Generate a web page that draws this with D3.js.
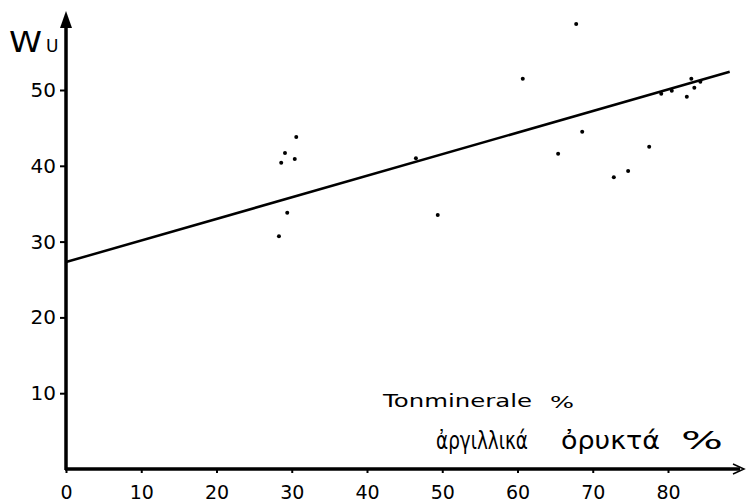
<!DOCTYPE html>
<html>
<head>
<meta charset="utf-8">
<script src="https://cdn.jsdelivr.net/npm/d3@7"></script>
<style>
  body { margin: 0; background: #fff; }
  svg { display: block; }
</style>
</head>
<body>
<div id="chart"></div>
<script>
// clay mineral % vs Wu
const clayPct = [28.3, 28.6, 29.1, 29.4, 30.4, 30.6, 46.5, 49.4, 60.7, 65.4, 67.8,
                 68.6, 72.8, 74.7, 77.5, 79.1, 80.5, 82.5, 83.1, 83.5, 84.3];
const wuValues = [30.7, 40.4, 41.7, 33.8, 40.9, 43.8, 41.0, 33.5, 51.5, 41.6, 58.7,
                  44.5, 38.5, 39.3, 42.5, 49.5, 49.9, 49.1, 51.5, 50.3, 51.1];
// fitted line end points
const fitX = [0, 88.2];
const fitY = [27.3, 52.4];
const xTicks = [0, 10, 20, 30, 40, 50, 60, 70, 80];
const yTicks = [10, 20, 30, 40, 50];

const width = 750, height = 504;
const font = "'DejaVu Sans', sans-serif";

const svg = d3.select("#chart").append("svg")
  .attr("width", width)
  .attr("height", height);

// scales
const x = d3.scaleLinear().domain([0, 80]).range([66, 668]);
const y = d3.scaleLinear().domain([0, 50]).range([469, 90]);

// x axis
const xAxis = svg.append("g")
  .attr("transform", `translate(0,${y(0)})`)
  .call(d3.axisBottom(x).tickValues(xTicks).tickSize(4).tickFormat(d3.format("d")));
xAxis.select(".domain").remove();
xAxis.selectAll("line").attr("stroke", "#000").attr("stroke-width", 2);
xAxis.selectAll("text")
  .attr("font-family", font)
  .attr("font-size", 19)
  .attr("fill", "#000")
  .attr("y", 30)
  .attr("dy", 0);

svg.append("line")
  .attr("x1", x(0) - 1).attr("x2", 740)
  .attr("y1", y(0)).attr("y2", y(0))
  .attr("stroke", "#000").attr("stroke-width", 3.5);
// open arrow at right end
svg.append("path")
  .attr("d", `M733,${y(0) - 5} L744,${y(0)} L733,${y(0) + 5}`)
  .attr("fill", "none").attr("stroke", "#000").attr("stroke-width", 1.5);

// y axis
const yAxis = svg.append("g")
  .attr("transform", `translate(${x(0)},0)`)
  .call(d3.axisLeft(y).tickValues(yTicks).tickSize(6).tickPadding(4));
yAxis.select(".domain").remove();
yAxis.selectAll("line").attr("stroke", "#000").attr("stroke-width", 2);
yAxis.selectAll("text")
  .attr("font-family", font)
  .attr("font-size", 20)
  .attr("fill", "#000");

svg.append("line")
  .attr("x1", x(0)).attr("x2", x(0))
  .attr("y1", y(0) + 1).attr("y2", 24)
  .attr("stroke", "#000").attr("stroke-width", 3.5);
svg.append("path")
  .attr("d", `M${x(0)},11 L${x(0) + 6},28 L${x(0) - 6},28 Z`)
  .attr("fill", "#000");

// regression line
svg.append("line")
  .attr("x1", x(fitX[0])).attr("y1", y(fitY[0]))
  .attr("x2", x(fitX[1])).attr("y2", y(fitY[1]))
  .attr("stroke", "#000").attr("stroke-width", 2.5);

// points
svg.selectAll(".dot")
  .data(clayPct.map((d, i) => [d, wuValues[i]]))
  .enter()
  .append("circle")
  .attr("class", "dot")
  .attr("cx", d => x(d[0]))
  .attr("cy", d => y(d[1]))
  .attr("r", 2)
  .attr("fill", "#000");

// axis titles
svg.append("text")
  .attr("x", 9).attr("y", 52)
  .attr("font-family", font)
  .attr("font-size", 28)
  .attr("textLength", 33)
  .attr("lengthAdjust", "spacingAndGlyphs")
  .attr("fill", "#000")
  .text("W");
svg.append("text")
  .attr("x", 46).attr("y", 52)
  .attr("font-family", font)
  .attr("font-size", 17)
  .attr("fill", "#000")
  .text("U");

svg.append("text")
  .attr("x", 383).attr("y", 407)
  .attr("font-family", font)
  .attr("font-size", 17)
  .attr("textLength", 149)
  .attr("lengthAdjust", "spacingAndGlyphs")
  .attr("fill", "#000")
  .text("Tonminerale");
svg.append("text")
  .attr("x", 550).attr("y", 408)
  .attr("font-family", font)
  .attr("font-size", 16)
  .attr("textLength", 24)
  .attr("lengthAdjust", "spacingAndGlyphs")
  .attr("fill", "#000")
  .text("%");

const greek = [
  { t: "ἀργιλλικά", x: 436, len: 92, size: 25 },
  { t: "ὀρυκτά", x: 561, len: 99, size: 25 },
  { t: "%", x: 681, len: 42, size: 25 }
];
svg.selectAll(".gr")
  .data(greek)
  .enter()
  .append("text")
  .attr("class", "gr")
  .attr("x", d => d.x).attr("y", 449)
  .attr("font-family", font)
  .attr("font-size", d => d.size)
  .attr("textLength", d => d.len)
  .attr("lengthAdjust", "spacingAndGlyphs")
  .attr("fill", "#000")
  .text(d => d.t);
</script>
</body>
</html>
